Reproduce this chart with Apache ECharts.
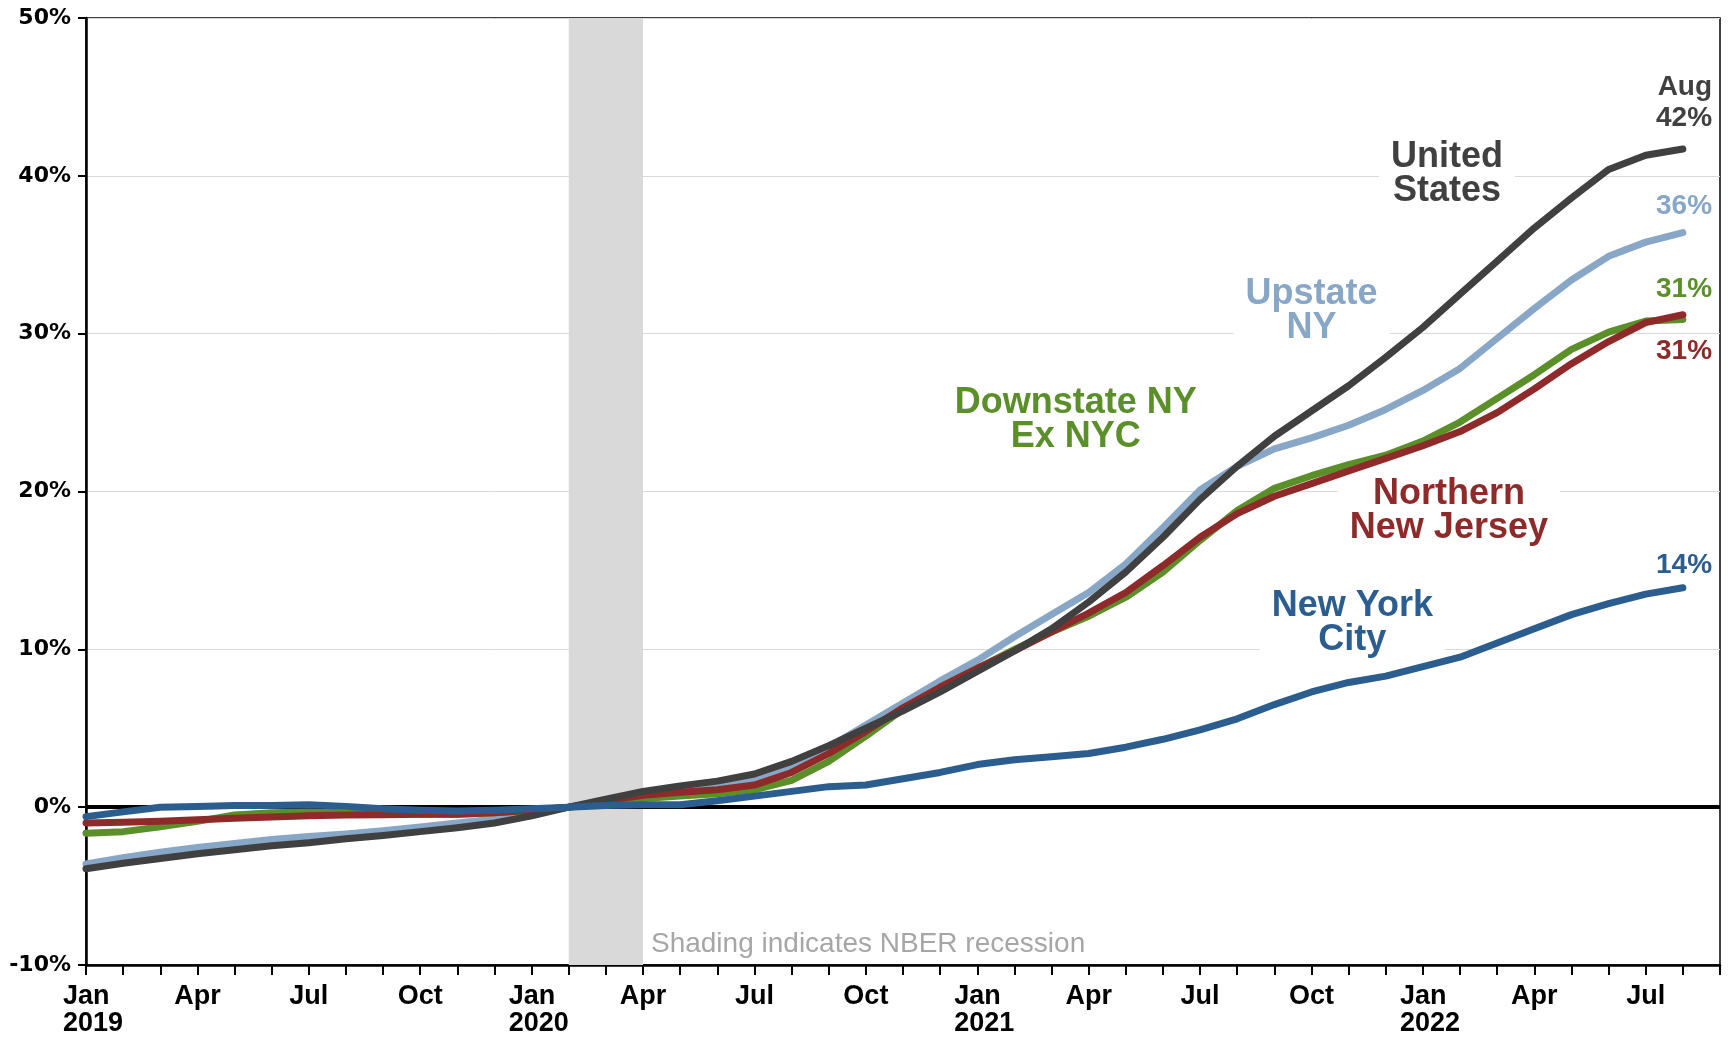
<!DOCTYPE html>
<html><head><meta charset="utf-8">
<script src="https://cdn.jsdelivr.net/npm/echarts@6/dist/echarts.min.js"></script>
<style>html,body{margin:0;padding:0;background:#fff}#c{width:1729px;height:1039px}</style>
</head><body><div id="c"></div>
<script>
// Tick labels, one per month Jan 2019 .. Sep 2022
const tickLabels = [
  'Jan\n2019','','','Apr','','','Jul','','','Oct','','',
  'Jan\n2020','','','Apr','','','Jul','','','Oct','','',
  'Jan\n2021','','','Apr','','','Jul','','','Oct','','',
  'Jan\n2022','','','Apr','','','Jul','',''
];
// Cumulative % change since Feb 2020, Jan 2019 .. Aug 2022
const unitedStates = [-3.9,-3.55,-3.25,-2.95,-2.7,-2.45,-2.25,-2.0,-1.8,-1.55,-1.3,-1.0,-0.55,0,0.5,1.0,1.35,1.65,2.1,2.9,3.9,5.0,6.1,7.3,8.6,9.9,11.3,13.0,14.9,17.1,19.5,21.6,23.5,25.1,26.7,28.5,30.4,32.5,34.6,36.7,38.6,40.4,41.3,41.7];
const upstateNY = [-3.6,-3.2,-2.85,-2.55,-2.3,-2.05,-1.85,-1.7,-1.5,-1.25,-1.0,-0.75,-0.4,0,0.35,0.75,1.0,1.25,1.7,2.5,3.8,5.2,6.6,8.0,9.3,10.8,12.2,13.6,15.4,17.7,20.1,21.6,22.7,23.4,24.2,25.2,26.4,27.8,29.7,31.6,33.4,34.9,35.8,36.4];
const downstateExNYC = [-1.65,-1.55,-1.25,-0.9,-0.5,-0.35,-0.3,-0.35,-0.4,-0.45,-0.45,-0.35,-0.2,0,0.3,0.55,0.7,0.85,1.1,1.7,2.9,4.5,6.2,7.6,8.8,10.0,11.1,12.1,13.3,14.9,16.9,18.8,20.2,21.0,21.7,22.3,23.2,24.4,25.9,27.4,29.0,30.1,30.8,30.9];
const northernNJ = [-1.0,-0.95,-0.9,-0.8,-0.7,-0.62,-0.55,-0.5,-0.48,-0.45,-0.45,-0.35,-0.2,0,0.4,0.75,0.95,1.1,1.4,2.2,3.4,4.8,6.3,7.6,8.8,9.9,11.1,12.3,13.6,15.3,17.1,18.6,19.7,20.5,21.3,22.1,22.9,23.8,25.0,26.5,28.1,29.5,30.7,31.2];
const newYorkCity = [-0.6,-0.3,0.0,0.05,0.1,0.1,0.15,0.05,-0.1,-0.2,-0.25,-0.2,-0.1,0,0.1,0.15,0.15,0.4,0.7,1.0,1.3,1.4,1.8,2.2,2.7,3.0,3.2,3.4,3.8,4.3,4.9,5.6,6.5,7.3,7.9,8.3,8.9,9.5,10.4,11.3,12.2,12.9,13.5,13.9];
const endLabels = ['Aug\n42%','36%','31%','31%','14%'];
const seriesNames = ['United\nStates','Upstate\nNY','Downstate NY\nEx NYC','Northern\nNew Jersey','New York\nCity'];
const recession = [13, 15]; // Feb 2020 - Apr 2020 (month index)

const FONT = 'Liberation Sans, Arial, sans-serif';
const toXY = arr => arr.map((v, i) => [i, v]);

function nameLabel(coord, text, color) {
  return {
    coord, value: 0,
    label: { show: true, position: 'inside', formatter: text, color, fontFamily: FONT,
      fontWeight: 'bold', fontSize: 36, lineHeight: 34, align: 'center',
      backgroundColor: '#fff', padding: [2, 12] }
  };
}
function endLabel(y, text, color) {
  return {
    coord: [43.8, y], value: 0,
    label: { show: true, position: 'left', distance: 0, formatter: text, color, fontFamily: FONT,
      fontWeight: 'bold', fontSize: 28, lineHeight: 31, align: 'right' }
  };
}
const mpBase = { z: 1, symbol: 'circle', symbolSize: 1, itemStyle: { color: 'rgba(0,0,0,0)' }, silent: true, animation: false };

function lineSeries(name, data, color, z, marks) {
  return {
    name, type: 'line', data: toXY(data), showSymbol: false, symbol: 'none', z,
    lineStyle: { color, width: 7, cap: 'round', join: 'round' },
    markPoint: Object.assign({}, mpBase, { data: marks })
  };
}

const chart = echarts.init(document.getElementById('c'), null, { renderer: 'canvas' });
chart.setOption({
  animation: false,
  backgroundColor: '#fff',
  grid: { left: 86, right: 9, top: 18, bottom: 74, show: true, borderColor: '#000', borderWidth: 1.5, backgroundColor: 'transparent' },
  xAxis: {
    type: 'value', min: 0, max: 44, interval: 1,
    axisLine: { onZero: false, lineStyle: { color: '#000', width: 2.5 } },
    axisTick: { show: true, length: 10, lineStyle: { color: '#000', width: 2 } },
    splitLine: { show: false },
    axisLabel: {
      margin: 18, interval: 0, showMinLabel: true, showMaxLabel: true,
      formatter: v => {
        const t = tickLabels[v] || '';
        if (t.indexOf('\n') >= 0) { const p = t.split('\n'); return '{j|' + p[0] + '}\n{j|' + p[1] + '}'; }
        return t;
      },
      color: '#000', fontFamily: FONT, fontWeight: 'bold', fontSize: 27, lineHeight: 27,
      rich: { j: { width: 60, align: 'left', color: '#000', fontFamily: FONT, fontWeight: 'bold', fontSize: 27, lineHeight: 27, padding: [0, 0, 0, 14] } }
    }
  },
  yAxis: {
    type: 'value', min: -10, max: 50, interval: 10,
    axisLine: { show: true, onZero: false, lineStyle: { color: '#000', width: 2.5 } },
    axisTick: { show: true, length: 8, lineStyle: { color: '#000', width: 2 } },
    splitLine: { show: true, lineStyle: { color: '#d9d9d9', width: 1 } },
    axisLabel: { margin: 15, formatter: '{value}%', color: '#000', fontFamily: 'DejaVu Sans, sans-serif', fontWeight: 'bold', fontSize: 22 }
  },
  series: [
    {
      name: 'frame', type: 'line', data: [], z: 1, silent: true,
      markArea: { silent: true, z: 1, itemStyle: { color: '#d9d9d9' }, data: [[{ xAxis: recession[0] }, { xAxis: recession[1] }]] },
      markLine: { silent: true, z: 1, symbol: ['none', 'none'], label: { show: false },
        lineStyle: { color: '#000', width: 4, type: 'solid' }, data: [{ yAxis: 0 }] },
      markPoint: Object.assign({}, mpBase, { data: [{
        coord: [15.2, -8.7], value: 0,
        label: { show: true, position: 'right', distance: 0, formatter: 'Shading indicates NBER recession',
          color: '#a6a6a6', fontFamily: FONT, fontSize: 28 }
      }] })
    },
    lineSeries('Upstate NY', upstateNY, '#88a6c6', 2, [nameLabel([33.0, 31.4], seriesNames[1], '#88a6c6'), endLabel(38.1, endLabels[1], '#88a6c6')]),
    lineSeries('Downstate NY Ex NYC', downstateExNYC, '#5b8f29', 3, [nameLabel([26.65, 24.5], seriesNames[2], '#5b8f29'), endLabel(32.8, endLabels[2], '#5b8f29')]),
    lineSeries('Northern New Jersey', northernNJ, '#8f2a2a', 4, [nameLabel([36.7, 18.75], seriesNames[3], '#8f2a2a'), endLabel(28.9, endLabels[3], '#8f2a2a')]),
    lineSeries('United States', unitedStates, '#404040', 5, [nameLabel([36.65, 40.1], seriesNames[0], '#404040'), endLabel(44.6, endLabels[0], '#404040')]),
    lineSeries('New York City', newYorkCity, '#2b5d8f', 6, [nameLabel([34.1, 11.65], seriesNames[4], '#2b5d8f'), endLabel(15.35, endLabels[4], '#2b5d8f')])
  ]
});
</script></body></html>
